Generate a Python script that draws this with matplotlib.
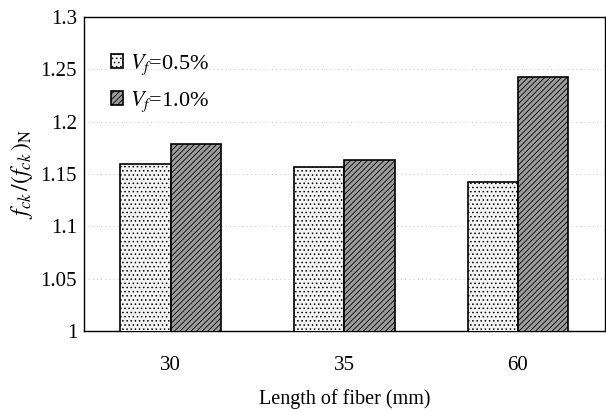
import numpy as np
import matplotlib
matplotlib.use('Agg')
from matplotlib import pyplot as plt

lengths = ['30', '35', '60']
vf_05 = [1.160, 1.157, 1.142]
vf_10 = [1.179, 1.163, 1.243]
y_ticks = [1, 1.05, 1.1, 1.15, 1.2, 1.25, 1.3]


def main():
    plt.rcParams['font.family'] = ['Liberation Serif', 'DejaVu Serif']
    plt.rcParams['mathtext.fontset'] = 'stix'
    plt.rcParams['hatch.linewidth'] = 0.6

    fig = plt.figure(figsize=(6.06, 4.12), dpi=100)
    ax = fig.add_axes([0.1386, 0.1966, 0.8594, 0.7621])

    x = np.arange(len(lengths))
    w = 0.29

    plt.rcParams['hatch.color'] = '#8a8a8a'
    ax.bar(x - w / 2, vf_05, width=w, bottom=0, facecolor='#f4f4f4',
           edgecolor='black', linewidth=1.2, hatch='....',
           label='$V_f$=0.5%', zorder=3)
    ax.bar(x + w / 2, vf_10, width=w, bottom=0, facecolor='#9c9c9c',
           edgecolor='black', linewidth=1.2, hatch='//////',
           label='$V_f$=1.0%', zorder=3)

    ax.set_xlim(-0.5, 2.5)
    ax.set_ylim(1, 1.3)
    ax.set_yticks(y_ticks)
    ax.set_yticklabels(['1', '1.05', '1.1', '1.15', '1.2', '1.25', '1.3'])
    ax.set_xticks(x)
    ax.set_xticklabels(lengths)
    ax.tick_params(axis='both', length=0, labelsize=15)
    ax.tick_params(axis='x', pad=18)
    ax.tick_params(axis='y', pad=5)

    ax.grid(axis='y', color='#b0b0b0', linestyle=(0, (1, 4)), linewidth=0.6, zorder=0)
    for s in ax.spines.values():
        s.set_linewidth(1.0)

    ax.set_xlabel('Length of fiber (mm)', fontsize=14.5, labelpad=10)
    ax.set_ylabel('$f_{ck}\\,/(f_{ck}\\,)_\\mathrm{N}$', fontsize=17, labelpad=4)

    ax.legend(loc='upper left', bbox_to_anchor=(0.035, 0.915), frameon=False,
              fontsize=16, handlelength=0.55, handleheight=0.6,
              handletextpad=0.3, labelspacing=0.55, borderaxespad=0)

    fig.savefig('out.png', dpi=100)


if __name__ == '__main__':
    main()
